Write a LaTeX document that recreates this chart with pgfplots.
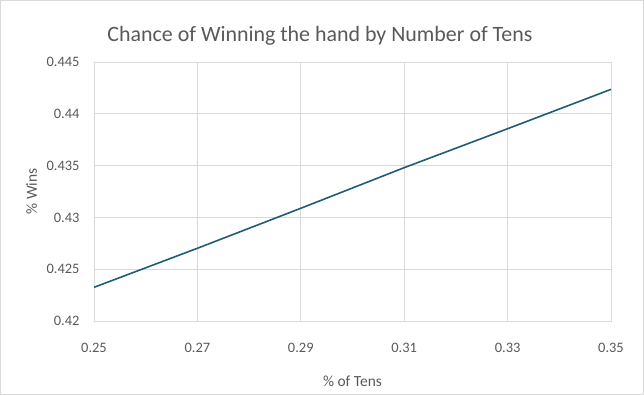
\documentclass[border=0pt]{standalone}
\usepackage{fontspec}
\setmainfont{Carlito}
\usepackage{pgfplots}
\pgfplotsset{compat=1.18}
\definecolor{txt}{HTML}{595959}
\definecolor{gridc}{HTML}{D9D9D9}
\definecolor{axisc}{HTML}{BFBFBF}
\definecolor{linec}{HTML}{1F5D75}
\begin{document}
\begin{tikzpicture}
\useasboundingbox (-94bp,-74bp) rectangle (550bp,321bp);
\draw[gridc, line width=0.8bp] (-93.6bp,-73.6bp) rectangle (549.6bp,320.6bp);
\begin{axis}[
  at={(0,0)}, anchor=south west,
  scale only axis, width=517bp, height=259bp,
  xmin=0.25, xmax=0.35, ymin=0.42, ymax=0.445,
  xtick={0.25,0.27,...,0.35}, ytick={0.42,0.425,...,0.445},
  xticklabels={0.25,0.27,0.29,0.31,0.33,0.35},
  yticklabels={0.42,0.425,0.43,0.435,0.44,0.445},
  major tick length=0pt,
  grid=major, grid style={gridc, line width=0.8bp},
  axis line style={gridc, line width=0.8bp},
  x axis line style={axisc},
  tick label style={font=\fontsize{14.5}{16}\selectfont, text=txt},
  xticklabel style={anchor=base, yshift=-31bp},
  yticklabel style={anchor=east, xshift=-11bp},
  xlabel={\% of Tens},
  ylabel={\% Wins},
  label style={font=\fontsize{15.5}{18}\selectfont, text=txt},
  xlabel style={at={(axis description cs:0.5,0)}, anchor=base, yshift=-65bp},
  ylabel style={at={(axis description cs:-0.1103,0.5)}, anchor=base},
]
\addplot[linec, line width=1.6bp, no marks] coordinates {
  (0.25,0.42325) (0.27,0.42702) (0.29,0.43088) (0.31,0.43480) (0.33,0.43856) (0.35,0.44236)
};
\end{axis}
\node[anchor=base, text=txt, font=\fontsize{22}{26}\selectfont] at (226bp,279bp) {Chance of Winning the hand by Number of Tens};
\end{tikzpicture}
\end{document}
